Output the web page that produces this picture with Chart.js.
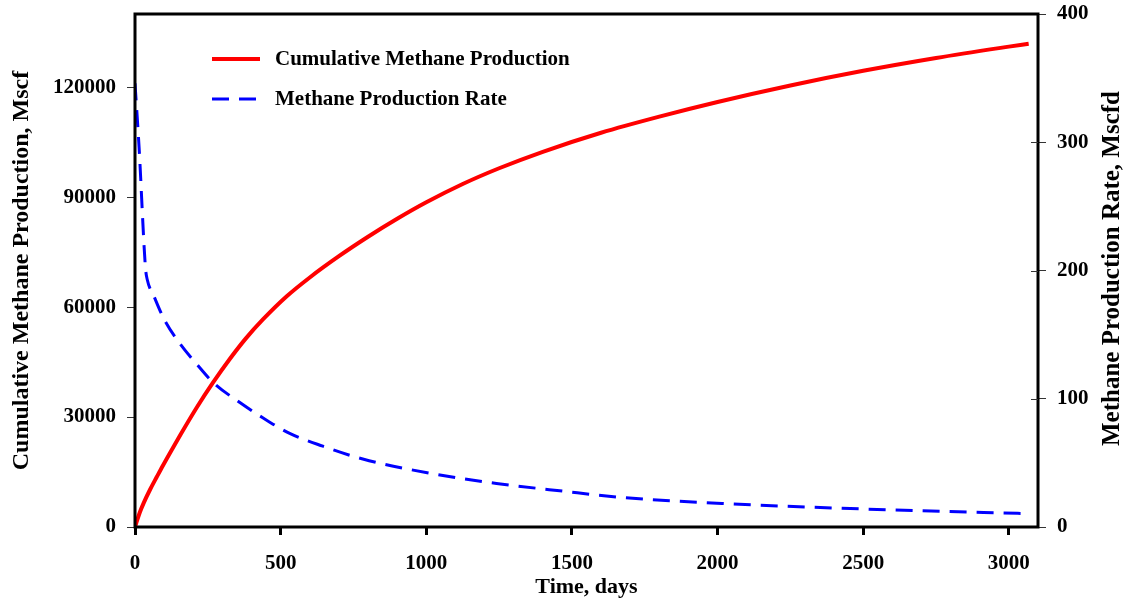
<!DOCTYPE html>
<html>
<head>
<meta charset="utf-8">
<script src="https://cdn.jsdelivr.net/npm/chart.js@4.4.1/dist/chart.umd.min.js"></script>
<style>
    html, body { margin: 0; padding: 0; background: #ffffff; }
    #wrap { width: 1127px; height: 606px; }
</style>
</head>
<body>
<div id="wrap"><canvas id="methane_chart" width="1127" height="606"></canvas></div>
<script>
"use strict";

// cumulative production, Mscf
var cumDays = [0, 8, 17, 30, 51, 75, 96, 125, 154, 212, 267, 326, 380, 440, 520, 600, 700, 800, 900, 1000, 1125, 1250, 1400, 1600, 1800, 2000, 2250, 2500, 2750, 3000, 3068];
var cumGas = [0, 2000, 4100, 6600, 10100, 13700, 16800, 20900, 24900, 32600, 39300, 45900, 51400, 56700, 62900, 68100, 73900, 79200, 84100, 88600, 93600, 97900, 102400, 107600, 112000, 116000, 120500, 124500, 128000, 131100, 131900];

// production rate, Mscfd
var rateDays = [0, 14, 36, 42, 65, 100, 154, 212, 267, 360, 440, 531, 645, 782, 1011, 1241, 1467, 1673, 2050, 2509, 2965, 3061];
var rateGas = [346, 296, 202, 193, 180, 162, 143, 127, 113, 97, 85, 73, 63, 53, 42, 34, 28, 23, 18, 14, 11, 10.5];

// axis ticks
var dayTicks = [0, 500, 1000, 1500, 2000, 2500, 3000];
var cumTicks = [0, 30000, 60000, 90000, 120000];
var rateTicks = [0, 100, 200, 300, 400];

var cumLabel = 'Cumulative Methane Production';
var rateLabel = 'Methane Production Rate';
var xTitle = 'Time, days';
var cumTitle = 'Cumulative Methane Production, Mscf';
var rateTitle = 'Methane Production Rate, Mscfd';

var serif = "'Liberation Serif', 'Times New Roman', serif";

function toPoints(xs, ys) {
    var pts = [];
    for (var i = 0; i < xs.length; i++) {
        pts.push({x: xs[i], y: ys[i]});
    }
    return pts;
}

function fixedTicks(values) {
    return function (scale) {
        scale.ticks = values.map(function (v) { return {value: v}; });
    };
}

function plainNumber(v) {
    return String(v);
}

// box around the plot, inner ticks on the right, legend and right-hand title
var decorations = {
    id: 'decorations',
    afterDatasetsDraw: function (chart) {
        var ctx = chart.ctx;
        var area = chart.chartArea;
        var y1 = chart.scales.y1;

        ctx.save();
        ctx.strokeStyle = '#000';
        ctx.lineWidth = 3;
        ctx.strokeRect(area.left, area.top, area.right - area.left, area.bottom - area.top);

        ctx.lineWidth = 1;
        ctx.strokeStyle = '#333';
        y1.ticks.forEach(function (t) {
            if (t.value <= y1.min || t.value >= y1.max) return;
            var py = Math.round(y1.getPixelForValue(t.value)) + 0.5;
            ctx.beginPath();
            ctx.moveTo(area.right - 7, py);
            ctx.lineTo(area.right, py);
            ctx.stroke();
        });

        ctx.font = 'bold 21px ' + serif;
        ctx.textBaseline = 'middle';
        ctx.textAlign = 'left';
        ctx.fillStyle = '#000';
        chart.data.datasets.forEach(function (ds, i) {
            var ly = 59 + i * 40;
            ctx.beginPath();
            ctx.strokeStyle = ds.borderColor;
            ctx.lineWidth = ds.borderWidth;
            ctx.setLineDash(ds.borderDash || []);
            ctx.moveTo(area.left + 77, ly);
            ctx.lineTo(area.left + 125, ly);
            ctx.stroke();
            ctx.setLineDash([]);
            ctx.fillText(ds.label, area.left + 140, ly + 1);
        });

        ctx.font = 'bold 25px ' + serif;
        ctx.textAlign = 'center';
        ctx.translate(1113, (area.top + area.bottom) / 2 - 2);
        ctx.rotate(-Math.PI / 2);
        ctx.fillText(rateTitle, 0, 0);
        ctx.restore();
    }
};

var tickFont = {family: serif, size: 21, weight: 'bold'};

var config = {
    type: 'line',
    data: {
        datasets: [
            {
                label: cumLabel,
                data: toPoints(cumDays, cumGas),
                yAxisID: 'y',
                borderColor: '#ff0000',
                backgroundColor: 'transparent',
                borderWidth: 4,
                pointRadius: 0,
                cubicInterpolationMode: 'monotone'
            },
            {
                label: rateLabel,
                data: toPoints(rateDays, rateGas),
                yAxisID: 'y1',
                borderColor: '#0000ff',
                backgroundColor: 'transparent',
                borderWidth: 3,
                borderDash: [17, 10],
                pointRadius: 0,
                cubicInterpolationMode: 'monotone'
            }
        ]
    },
    options: {
        responsive: false,
        animation: false,
        layout: {padding: {top: 14, left: 0, right: 0, bottom: 0}},
        plugins: {
            legend: {display: false},
            tooltip: {enabled: false},
            title: {display: false}
        },
        scales: {
            x: {
                type: 'linear',
                min: 0,
                max: 3100,
                border: {display: false},
                grid: {drawOnChartArea: false, drawTicks: true, tickLength: 8, lineWidth: 3, color: '#000'},
                ticks: {font: tickFont, color: '#000', padding: 16, maxRotation: 0, autoSkip: false, callback: plainNumber},
                afterBuildTicks: fixedTicks(dayTicks),
                afterFit: function (scale) {
                    scale.height = 79;
                    scale.paddingLeft = 0;
                    scale.paddingRight = 0;
                },
                title: {display: true, text: xTitle, color: '#000', font: {family: serif, size: 22, weight: 'bold'}, padding: {top: 0, bottom: 5}}
            },
            y: {
                position: 'left',
                min: 0,
                max: 140000,
                border: {display: false},
                grid: {drawOnChartArea: false, drawTicks: true, tickLength: 8, lineWidth: 1, color: '#333'},
                ticks: {font: tickFont, color: '#000', padding: 11, autoSkip: false, callback: plainNumber},
                afterBuildTicks: fixedTicks(cumTicks),
                afterFit: function (scale) {
                    scale.width = 135;
                    scale.paddingTop = 0;
                    scale.paddingBottom = 0;
                },
                title: {display: true, text: cumTitle, color: '#000', font: {family: serif, size: 24, weight: 'bold'}, padding: {top: 7, bottom: 0}}
            },
            y1: {
                position: 'right',
                min: 0,
                max: 400,
                border: {display: false},
                grid: {drawOnChartArea: false, drawTicks: true, tickLength: 8, lineWidth: 1, color: '#333'},
                ticks: {font: tickFont, color: '#000', padding: 11, autoSkip: false, callback: plainNumber},
                afterBuildTicks: fixedTicks(rateTicks),
                afterFit: function (scale) {
                    scale.width = 89;
                    scale.paddingTop = 0;
                    scale.paddingBottom = 0;
                },
                title: {display: false, text: rateTitle}
            }
        }
    },
    plugins: [decorations]
};

var chart = new Chart(document.getElementById('methane_chart'), config);
</script>
</body>
</html>
